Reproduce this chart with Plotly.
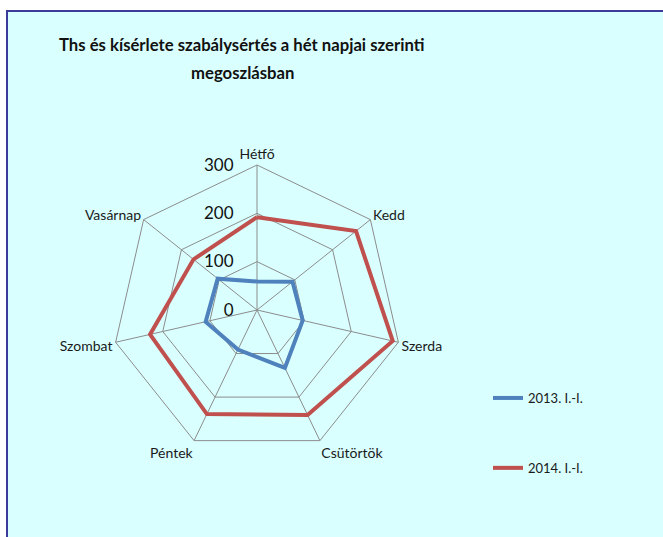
import plotly.graph_objects as go

categories = ["Hétfő", "Kedd", "Szerda", "Csütörtök", "Péntek", "Szombat", "Vasárnap"]
series_2013 = [59, 94, 97, 133, 91, 109, 104]
series_2014 = [192, 262, 288, 241, 239, 227, 168]
series_names = ["2013. I.-I.", "2014. I.-I."]
radial_ticks = [0, 100, 200, 300]
title_lines = ["Ths és kísérlete szabálysértés a hét napjai szerinti", "megoszlásban"]

W, H = 663, 537
fig = go.Figure()

fig.add_trace(go.Scatterpolar(
    r=series_2013 + series_2013[:1], theta=categories + categories[:1],
    mode="lines", name=series_names[0], legendgroup="a",
    line=dict(color="#4F81BD", width=4)))
fig.add_trace(go.Scatterpolar(
    r=series_2014 + series_2014[:1], theta=categories + categories[:1],
    mode="lines", name=series_names[1], legendgroup="b",
    line=dict(color="#C0504D", width=4)))

cx, cy, R = 257, 310, 145
fig.update_layout(
    width=W, height=H,
    margin=dict(l=0, r=0, t=0, b=0),
    paper_bgcolor="white",
    font=dict(family="Lato, Open Sans, sans-serif", color="#1a1a1a", size=12),
    polar=dict(
        domain=dict(x=[(cx - R) / W, (cx + R) / W], y=[1 - (cy + R) / H, 1 - (cy - R) / H]),
        bgcolor="rgba(0,0,0,0)",
        gridshape="linear",
        radialaxis=dict(range=[0, 300], tickvals=radial_ticks, showline=False,
                        ticks="outside", ticklen=17, tickcolor="rgba(0,0,0,0)",
                        angle=90, tickangle=90, side="counterclockwise",
                        gridcolor="#8c8c8c", gridwidth=1,
                        tickfont=dict(size=17, color="#111")),
        angularaxis=dict(rotation=90, direction="clockwise", gridcolor="#8c8c8c",
                         linecolor="#8c8c8c", linewidth=1, ticks="",
                         tickfont=dict(size=14, color="#1a1a1a")),
    ),
    showlegend=True,
    legend=dict(x=488 / W, y=1 - 383 / H, xanchor="left", yanchor="top",
                bgcolor="rgba(0,0,0,0)", tracegroupgap=50,
                font=dict(size=13, color="#1a1a1a")),
    shapes=[dict(type="rect", xref="paper", yref="paper",
                 x0=7 / W, x1=1.01, y0=-0.01, y1=1 - 11 / H,
                 line=dict(color="#3B3B9B", width=2), fillcolor="#D9FFFF", layer="below")],
    annotations=[
        dict(text="<b>%s</b>" % title_lines[0], x=242 / W, y=1 - 45 / H, xref="paper", yref="paper",
             xanchor="center", yanchor="middle", showarrow=False, font=dict(size=16.7, color="#111")),
        dict(text="<b>%s</b>" % title_lines[1], x=243 / W, y=1 - 73 / H, xref="paper", yref="paper",
             xanchor="center", yanchor="middle", showarrow=False, font=dict(size=16.7, color="#111")),
    ],
)

fig.write_html("out.html", config={"displayModeBar": False},
               post_script="document.body.style.margin='0';")
